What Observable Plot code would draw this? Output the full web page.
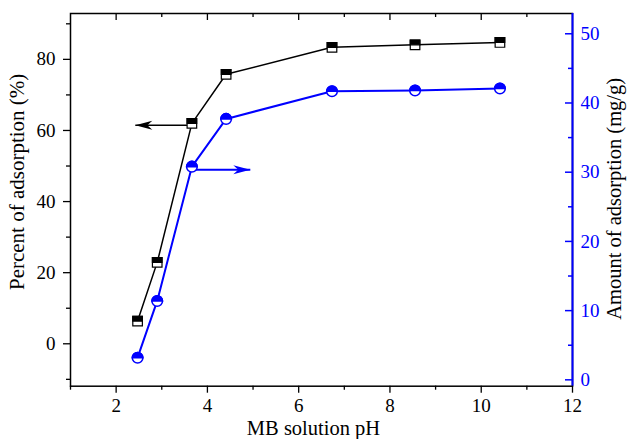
<!DOCTYPE html>
<html><head><meta charset="utf-8">
<script src="https://cdn.jsdelivr.net/npm/d3@7"></script>
<script src="https://cdn.jsdelivr.net/npm/@observablehq/plot@0.6"></script>
<style>body{margin:0;background:#fff} svg{display:block} svg text{font-family:'Liberation Serif','Times New Roman',serif !important;font-variant:normal !important}</style>
</head><body><div id="chart"></div>
<script>
// ---- data ----
const pH = [2.47, 2.90, 3.66, 4.41, 6.73, 8.55, 10.41];
const percentAdsorption = [6.4, 22.9, 62.0, 75.8, 83.4, 84.1, 84.75];
const amountAdsorption = [3.2, 11.4, 30.8, 37.7, 41.7, 41.8, 42.1];
const xTicks = [2, 4, 6, 8, 10, 12];
const xMinorTicks = [1, 3, 5, 7, 9, 11];
const topMajorTicks = [2, 4, 6, 8, 10];
const topMinorTicks = [3, 5, 7, 9, 11];
const leftTicks = [0, 20, 40, 60, 80];
const leftMinorTicks = [-10, 10, 30, 50, 70, 90];
const rightTicks = [0, 10, 20, 30, 40, 50];
const rightMinorTicks = [5, 15, 25, 35, 45];
const xDomain = [1, 12];
const leftDomain = [-11.93, 92.9];
const rightDomain = [-0.92, 52.93];
const arrowPercent = [{x1: 3.66, x2: 2.42, y: 61.5}];
const arrowAmount = [{x1: 3.66, x2: 4.94, y: 30.35}];
const xTitle = "MB solution pH";
const leftTitle = "Percent of adsorption (%)";
const rightTitle = "Amount of adsorption (mg/g)";

// ---- layout ----
const W = 627, H = 439;
const mL = 70, mR = 55, mT = 13, mB = 53.3;
const fw = W - mL - mR, fh = H - mT - mB;
const BLUE = "#0000ff";
const FONT = "'Liberation Serif', 'Times New Roman', serif";

const toPct = v => leftDomain[0] + (v - rightDomain[0]) * (leftDomain[1] - leftDomain[0]) / (rightDomain[1] - rightDomain[0]);
const fromPct = p => rightDomain[0] + (p - leftDomain[0]) * (rightDomain[1] - rightDomain[0]) / (leftDomain[1] - leftDomain[0]);

const pctData = pH.map((x, i) => ({x, y: percentAdsorption[i]}));
const amtData = pH.map((x, i) => ({x, y: toPct(amountAdsorption[i])}));

const halfSquareTop = {draw(ctx, size) { const w = Math.sqrt(size); ctx.rect(-w / 2, -w / 2, w, w / 2); }};
const halfCircleTop = {draw(ctx, size) { const r = Math.sqrt(size / Math.PI); ctx.moveTo(-r, 0); ctx.arc(0, 0, r, Math.PI, 2 * Math.PI); ctx.closePath(); }};
const arrowHead = {draw(ctx) { ctx.moveTo(0, 0); ctx.lineTo(-17, -4.5); ctx.lineTo(-12, 0); ctx.lineTo(-17, 4.5); ctx.closePath(); }};

const chart = Plot.plot({
  width: W, height: H,
  marginLeft: mL, marginRight: mR, marginTop: mT, marginBottom: mB,
  style: {fontFamily: FONT, fontSize: "19px", background: "#fff", color: "black"},
  x: {domain: xDomain},
  y: {domain: leftDomain},
  marks: [
    // frame
    Plot.frame({stroke: "black", strokeWidth: 1.5}),
    Plot.ruleX([xDomain[1]], {stroke: BLUE, strokeWidth: 2}),
    // bottom axis
    Plot.axisX(xTicks, {anchor: "bottom", tickSize: 7, tickPadding: 5, strokeWidth: 1.3, fontSize: 19, fontFamily: FONT, label: null}),
    Plot.axisX(xMinorTicks, {anchor: "bottom", tickSize: 4, tickFormat: () => "", strokeWidth: 1.3, label: null}),
    // top inward ticks
    Plot.tickX(topMajorTicks, {x: d => d, insetBottom: fh - 7, strokeWidth: 1.3}),
    Plot.tickX(topMinorTicks, {x: d => d, insetBottom: fh - 4, strokeWidth: 1.3}),
    // left axis
    Plot.axisY(leftTicks, {anchor: "left", tickSize: 7, tickPadding: 8, strokeWidth: 1.3, fontSize: 19, fontFamily: FONT, label: null}),
    Plot.axisY(leftMinorTicks, {anchor: "left", tickSize: 4, tickFormat: () => "", strokeWidth: 1.3, label: null}),
    // right axis (blue, inward ticks)
    Plot.axisY(rightTicks.map(toPct), {anchor: "right", tickSize: 0, tickPadding: 8, fontSize: 19, fontFamily: FONT, color: BLUE, label: null,
      tickFormat: d => String(Math.round(fromPct(d)))}),
    Plot.tickY(rightTicks.map(toPct), {y: d => d, insetLeft: fw - 7, stroke: BLUE, strokeWidth: 1.5}),
    Plot.tickY(rightMinorTicks.map(toPct), {y: d => d, insetLeft: fw - 4, stroke: BLUE, strokeWidth: 1.5}),
    // arrows
    Plot.link(arrowPercent, {x1: "x1", x2: "x2", y1: "y", y2: "y", stroke: "black", strokeWidth: 1.5}),
    Plot.dot(arrowPercent, {x: "x2", y: "y", symbol: arrowHead, fill: "black", stroke: "none", rotate: 180}),
    Plot.link(arrowAmount, {x1: "x1", x2: "x2", y1: d => toPct(d.y), y2: d => toPct(d.y), stroke: BLUE, strokeWidth: 2}),
    Plot.dot(arrowAmount, {x: "x2", y: d => toPct(d.y), symbol: arrowHead, fill: BLUE, stroke: "none"}),
    // series lines
    Plot.line(pctData, {x: "x", y: "y", stroke: "black", strokeWidth: 1.5}),
    Plot.line(amtData, {x: "x", y: "y", stroke: BLUE, strokeWidth: 2}),
    // markers
    Plot.dot(pctData, {x: "x", y: "y", symbol: "square", r: 5.4, fill: "white", stroke: "black", strokeWidth: 1.2}),
    Plot.dot(pctData, {x: "x", y: "y", symbol: halfSquareTop, r: 5.4, fill: "black", stroke: "black", strokeWidth: 1.2}),
    Plot.dot(amtData, {x: "x", y: "y", symbol: "circle", r: 5.3, fill: "white", stroke: BLUE, strokeWidth: 1.5}),
    Plot.dot(amtData, {x: "x", y: "y", symbol: halfCircleTop, r: 5.3, fill: BLUE, stroke: BLUE, strokeWidth: 1.5}),
    // titles
    Plot.text([xTitle], {text: d => d, frameAnchor: "bottom", textAnchor: "middle", lineAnchor: "middle", dx: -8, dy: 41.8, fontSize: 20.5, fontFamily: FONT, fill: "black"}),
    Plot.text([leftTitle], {text: d => d, frameAnchor: "left", textAnchor: "middle", lineAnchor: "middle", dx: -53, dy: -18, rotate: -90, fontSize: 21, fontFamily: FONT, fill: "black"}),
    Plot.text([rightTitle], {text: d => d, frameAnchor: "right", textAnchor: "middle", lineAnchor: "middle", dx: 42, dy: -1, rotate: -90, fontSize: 20.5, fontFamily: FONT, fill: "black"})
  ]
});
document.getElementById("chart").appendChild(chart);
</script>
</body></html>
